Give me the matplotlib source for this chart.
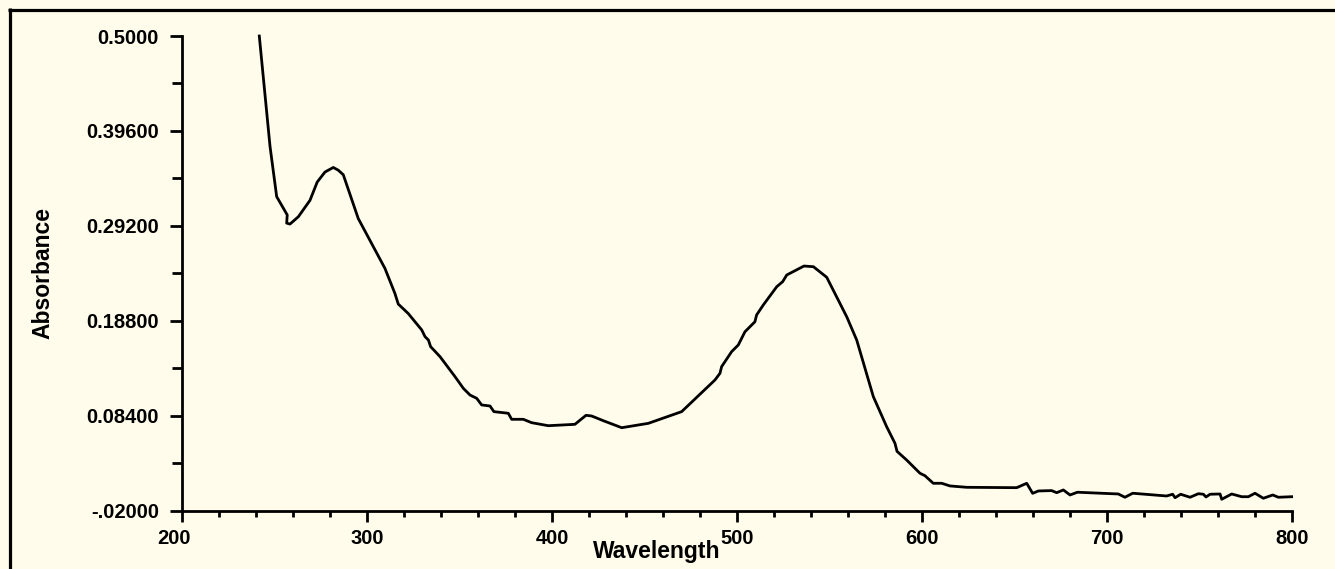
import numpy as np
import matplotlib.pyplot as plt
from matplotlib.lines import Line2D
from matplotlib.transforms import ScaledTranslation

# spectrum
wavelength = [241.8, 247.6, 251.2, 256.9, 256.6, 258.4, 262.9, 269.2, 273.1, 277.3,
              281.8, 284.5, 287.2, 295.3, 309.7, 315.1, 316.9, 322.3, 329.6, 331.4,
              333.2, 334.4, 339.5, 347.6, 352.1, 355.7, 359.3, 362.0, 366.5, 368.6,
              376.4, 378.2, 384.5, 389.0, 398.0, 412.4, 418.4, 421.5, 427.7, 437.7,
              452.1, 470.1, 488.1, 490.8, 491.7, 497.1, 500.7, 504.3, 509.7, 510.6,
              514.2, 521.5, 524.7, 526.9, 536.2, 541.3, 548.5, 559.3, 564.7, 573.7,
              580.9, 585.4, 586.5, 591.7, 598.9, 601.6, 606.1, 610.7, 615.1, 624.2,
              651.2, 656.6, 659.8, 662.9, 670.1, 672.8, 676.4, 680.0, 684.0, 706.1,
              709.7, 713.9, 732.2, 735.5, 736.8, 739.8, 744.9, 749.4, 752.1, 753.5,
              755.7, 761.1, 762.0, 767.4, 772.8, 776.4, 780.0, 784.5, 789.6, 792.6,
              799.8]
absorbance = [0.500, 0.379, 0.324, 0.304, 0.295, 0.294, 0.302, 0.320, 0.340, 0.351,
              0.356, 0.353, 0.348, 0.300, 0.2455, 0.218, 0.2064, 0.196, 0.178, 0.1706,
              0.167, 0.1597, 0.1487, 0.1268, 0.114, 0.1067, 0.1031, 0.0958, 0.0947, 0.0885,
              0.0867, 0.0801, 0.0801, 0.0764, 0.0731, 0.0746, 0.0845, 0.0837, 0.0786, 0.0709,
              0.0757, 0.0885, 0.1232, 0.1305, 0.1378, 0.1542, 0.1615, 0.176, 0.187, 0.1944,
              0.2053, 0.2254, 0.2309, 0.2382, 0.248, 0.2473, 0.2357, 0.1925, 0.167, 0.1049,
              0.072, 0.0538, 0.045, 0.0355, 0.021, 0.0183, 0.010, 0.010, 0.0071, 0.0056,
              0.0052, 0.010, -0.001, 0.0016, 0.002, -0.0003, 0.0027, -0.0028, 0.0002, -0.0017,
              -0.0053, -0.0009, -0.0039, -0.002, -0.0058, -0.002, -0.0053, -0.0014, -0.002, -0.005,
              -0.002, -0.0017, -0.0075, -0.0017, -0.0047, -0.0047, -0.0009, -0.0064, -0.0028, -0.0053,
              -0.0047]

x_major = [200, 300, 400, 500, 600, 700, 800]
x_minor = list(range(200, 801, 20))
y_major = [-0.02, 0.084, 0.188, 0.292, 0.396, 0.5]
y_labels = ['-.02000', '0.08400', '0.18800', '0.29200', '0.39600', '0.5000']
y_minor = [0.032, 0.136, 0.24, 0.344, 0.448]

bg = '#fffceb'
plt.rcParams['font.family'] = ['Liberation Sans', 'DejaVu Sans']
plt.rcParams['font.weight'] = 'bold'

fig = plt.figure(figsize=(13.35, 5.69), dpi=100, facecolor=bg)
ax = fig.add_axes([0.1363, 0.1025, 0.8315, 0.8342], facecolor=bg)

ax.plot(wavelength, absorbance, color='black', linewidth=2.0, clip_on=False)

ax.set_xlim(200, 800)
ax.set_ylim(-0.02, 0.5)
ax.set_xticks(x_major)
ax.set_xticks(x_minor, minor=True)
ax.set_yticks(y_major)
ax.set_yticklabels(y_labels)
ax.set_yticks(y_minor, minor=True)

for side in ['top', 'right']:
    ax.spines[side].set_visible(False)
for side in ['left', 'bottom']:
    ax.spines[side].set_linewidth(2.0)

ax.tick_params(axis='both', which='both', width=2.0, labelsize=14.5, direction='out')
ax.tick_params(axis='x', which='major', length=8, pad=5)
ax.tick_params(axis='x', which='minor', length=4.5)
ax.tick_params(axis='y', which='major', length=8.5, pad=8)
ax.tick_params(axis='y', which='minor', length=7)

# the "200" label sits a little left of its tick in the reference
lbl = ax.get_xticklabels()[0]
lbl.set_transform(lbl.get_transform() + ScaledTranslation(-8 / 100, 0, fig.dpi_scale_trans))

ax.set_xlabel('Wavelength', fontsize=16.5, fontweight='bold')
ax.xaxis.set_label_coords(0.428, -0.062)
ax.set_ylabel('Absorbance', fontsize=16.5, fontweight='bold')
ax.yaxis.set_label_coords(-0.115, 0.5)

# frame line along top and left edge
fig.add_artist(Line2D([8 / 1335, 1], [1 - 10 / 569, 1 - 10 / 569], color='black',
                      linewidth=2.3, solid_capstyle='butt'))
fig.add_artist(Line2D([10 / 1335, 10 / 1335], [0, 1 - 8 / 569], color='black',
                      linewidth=2.3, solid_capstyle='butt'))

plt.savefig('out.png', dpi=100, facecolor=bg)
